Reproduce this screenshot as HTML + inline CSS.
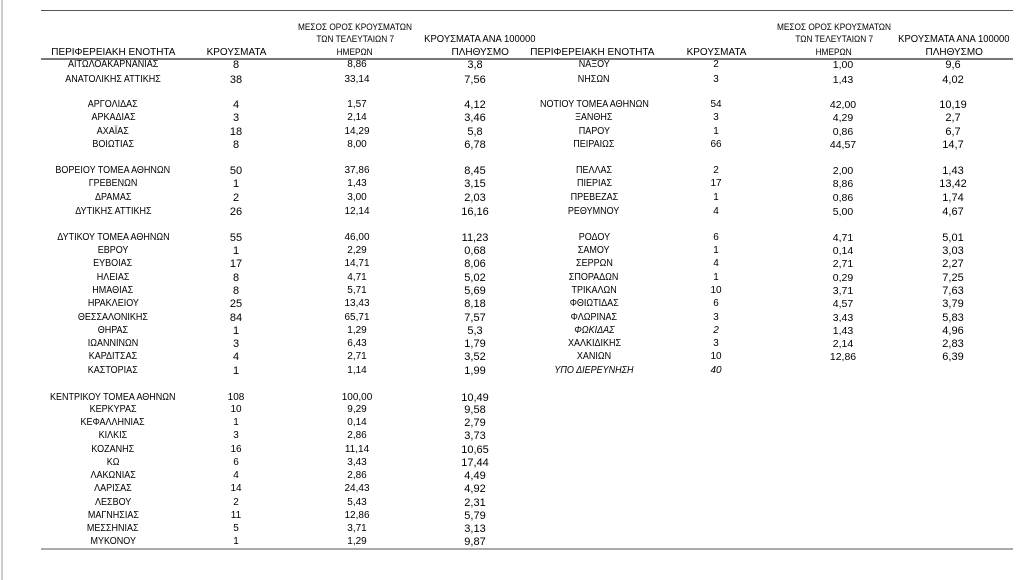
<!DOCTYPE html>
<html><head><meta charset="utf-8"><style>
html,body{margin:0;padding:0;background:#fff;width:1024px;height:580px;overflow:hidden;position:relative;font-family:"Liberation Sans",Arial,sans-serif;color:#000}
.r{position:absolute;left:0;width:1024px;height:14px}
.r div{position:absolute;top:0;height:14px;line-height:14px;text-align:center;white-space:nowrap}
.r span{display:inline-block;transform:scaleX(.9);transform-origin:center}
.c1{left:43px;width:140px;font-size:10px}
.c2{left:206px;width:60px;font-size:11px}
.c3{left:317px;width:80px;font-size:10px}
.c4{left:435px;width:80px;font-size:11px}
.c5{left:524px;width:140px;font-size:10px}
.c6{left:686px;width:60px;font-size:10px}
.c7{left:803px;width:80px;font-size:10.5px}
.c8{left:913px;width:80px;font-size:11px}
.i{font-style:italic}
.h{position:absolute;text-align:center;white-space:nowrap;line-height:12px}
.h span{display:inline-block;transform:scaleX(.95)}
.s{font-size:9px}
.s span{transform:scaleX(.92)}
.ln{position:absolute;height:0}
</style></head><body>
<div style="position:absolute;left:1px;top:0;width:2px;height:580px;background:#ccc"></div>
<div class="ln" style="left:41px;top:10px;width:972px;border-top:1.5px solid #555"></div>
<div class="ln" style="left:41px;top:58px;width:972px;border-top:2px solid #777"></div>
<div class="ln" style="left:41px;top:548px;width:972px;border-top:2px solid #aaa"></div>

<div class="h" style="left:33px;width:160px;top:46px;font-size:10.5px"><span>ΠΕΡΙΦΕΡΕΙΑΚΗ ΕΝΟΤΗΤΑ</span></div>
<div class="h" style="left:196px;width:80px;top:46px;font-size:10.5px"><span>ΚΡΟΥΣΜΑΤΑ</span></div>
<div class="h s" style="left:275px;width:160px;top:21px"><span>ΜΕΣΟΣ ΟΡΟΣ ΚΡΟΥΣΜΑΤΩΝ</span></div>
<div class="h s" style="left:275px;width:160px;top:33px"><span>ΤΩΝ ΤΕΛΕΥΤΑΙΩΝ 7</span></div>
<div class="h s" style="left:275px;width:160px;top:46px"><span>ΗΜΕΡΩΝ</span></div>
<div class="h" style="left:400px;width:160px;top:33px;font-size:10.5px"><span style="transform:scaleX(.9)">ΚΡΟΥΣΜΑΤΑ ΑΝΑ 100000</span></div>
<div class="h" style="left:400px;width:160px;top:46px;font-size:10.5px"><span>ΠΛΗΘΥΣΜΟ</span></div>

<div class="h" style="left:512px;width:160px;top:46px;font-size:10.5px"><span>ΠΕΡΙΦΕΡΕΙΑΚΗ ΕΝΟΤΗΤΑ</span></div>
<div class="h" style="left:676px;width:80px;top:46px;font-size:10.5px"><span>ΚΡΟΥΣΜΑΤΑ</span></div>
<div class="h s" style="left:754px;width:160px;top:21px"><span>ΜΕΣΟΣ ΟΡΟΣ ΚΡΟΥΣΜΑΤΩΝ</span></div>
<div class="h s" style="left:754px;width:160px;top:33px"><span>ΤΩΝ ΤΕΛΕΥΤΑΙΩΝ 7</span></div>
<div class="h s" style="left:754px;width:160px;top:46px"><span>ΗΜΕΡΩΝ</span></div>
<div class="h" style="left:874px;width:160px;top:33px;font-size:10.5px"><span style="transform:scaleX(.9)">ΚΡΟΥΣΜΑΤΑ ΑΝΑ 100000</span></div>
<div class="h" style="left:874px;width:160px;top:46px;font-size:10.5px"><span>ΠΛΗΘΥΣΜΟ</span></div>

<div class="r" style="top:58px"><div class="c1"><span>ΑΙΤΩΛΟΑΚΑΡΝΑΝΙΑΣ</span></div><div class="c2">8</div><div class="c3">8,86</div><div class="c4">3,8</div><div class="c5"><span>ΝΑΞΟΥ</span></div><div class="c6">2</div><div class="c7">1,00</div><div class="c8">9,6</div></div>
<div class="r" style="top:73px"><div class="c1"><span>ΑΝΑΤΟΛΙΚΗΣ ΑΤΤΙΚΗΣ</span></div><div class="c2">38</div><div class="c3">33,14</div><div class="c4">7,56</div><div class="c5"><span>ΝΗΣΩΝ</span></div><div class="c6">3</div><div class="c7">1,43</div><div class="c8">4,02</div></div>

<div class="r" style="top:98px"><div class="c1"><span>ΑΡΓΟΛΙΔΑΣ</span></div><div class="c2">4</div><div class="c3">1,57</div><div class="c4">4,12</div><div class="c5"><span>ΝΟΤΙΟΥ ΤΟΜΕΑ ΑΘΗΝΩΝ</span></div><div class="c6">54</div><div class="c7">42,00</div><div class="c8">10,19</div></div>
<div class="r" style="top:111px"><div class="c1"><span>ΑΡΚΑΔΙΑΣ</span></div><div class="c2">3</div><div class="c3">2,14</div><div class="c4">3,46</div><div class="c5"><span>ΞΑΝΘΗΣ</span></div><div class="c6">3</div><div class="c7">4,29</div><div class="c8">2,7</div></div>
<div class="r" style="top:125px"><div class="c1"><span>ΑΧΑΪΑΣ</span></div><div class="c2">18</div><div class="c3">14,29</div><div class="c4">5,8</div><div class="c5"><span>ΠΑΡΟΥ</span></div><div class="c6">1</div><div class="c7">0,86</div><div class="c8">6,7</div></div>
<div class="r" style="top:138px"><div class="c1"><span>ΒΟΙΩΤΙΑΣ</span></div><div class="c2">8</div><div class="c3">8,00</div><div class="c4">6,78</div><div class="c5"><span>ΠΕΙΡΑΙΩΣ</span></div><div class="c6">66</div><div class="c7">44,57</div><div class="c8">14,7</div></div>

<div class="r" style="top:164px"><div class="c1"><span>ΒΟΡΕΙΟΥ ΤΟΜΕΑ ΑΘΗΝΩΝ</span></div><div class="c2">50</div><div class="c3">37,86</div><div class="c4">8,45</div><div class="c5"><span>ΠΕΛΛΑΣ</span></div><div class="c6">2</div><div class="c7">2,00</div><div class="c8">1,43</div></div>
<div class="r" style="top:177px"><div class="c1"><span>ΓΡΕΒΕΝΩΝ</span></div><div class="c2">1</div><div class="c3">1,43</div><div class="c4">3,15</div><div class="c5"><span>ΠΙΕΡΙΑΣ</span></div><div class="c6">17</div><div class="c7">8,86</div><div class="c8">13,42</div></div>
<div class="r" style="top:191px"><div class="c1"><span>ΔΡΑΜΑΣ</span></div><div class="c2">2</div><div class="c3">3,00</div><div class="c4">2,03</div><div class="c5"><span>ΠΡΕΒΕΖΑΣ</span></div><div class="c6">1</div><div class="c7">0,86</div><div class="c8">1,74</div></div>
<div class="r" style="top:205px"><div class="c1"><span>ΔΥΤΙΚΗΣ ΑΤΤΙΚΗΣ</span></div><div class="c2">26</div><div class="c3">12,14</div><div class="c4">16,16</div><div class="c5"><span>ΡΕΘΥΜΝΟΥ</span></div><div class="c6">4</div><div class="c7">5,00</div><div class="c8">4,67</div></div>

<div class="r" style="top:231px"><div class="c1"><span>ΔΥΤΙΚΟΥ ΤΟΜΕΑ ΑΘΗΝΩΝ</span></div><div class="c2">55</div><div class="c3">46,00</div><div class="c4">11,23</div><div class="c5"><span>ΡΟΔΟΥ</span></div><div class="c6">6</div><div class="c7">4,71</div><div class="c8">5,01</div></div>
<div class="r" style="top:244px"><div class="c1"><span>ΕΒΡΟΥ</span></div><div class="c2">1</div><div class="c3">2,29</div><div class="c4">0,68</div><div class="c5"><span>ΣΑΜΟΥ</span></div><div class="c6">1</div><div class="c7">0,14</div><div class="c8">3,03</div></div>
<div class="r" style="top:257px"><div class="c1"><span>ΕΥΒΟΙΑΣ</span></div><div class="c2">17</div><div class="c3">14,71</div><div class="c4">8,06</div><div class="c5"><span>ΣΕΡΡΩΝ</span></div><div class="c6">4</div><div class="c7">2,71</div><div class="c8">2,27</div></div>
<div class="r" style="top:271px"><div class="c1"><span>ΗΛΕΙΑΣ</span></div><div class="c2">8</div><div class="c3">4,71</div><div class="c4">5,02</div><div class="c5"><span>ΣΠΟΡΑΔΩΝ</span></div><div class="c6">1</div><div class="c7">0,29</div><div class="c8">7,25</div></div>
<div class="r" style="top:284px"><div class="c1"><span>ΗΜΑΘΙΑΣ</span></div><div class="c2">8</div><div class="c3">5,71</div><div class="c4">5,69</div><div class="c5"><span>ΤΡΙΚΑΛΩΝ</span></div><div class="c6">10</div><div class="c7">3,71</div><div class="c8">7,63</div></div>
<div class="r" style="top:297px"><div class="c1"><span>ΗΡΑΚΛΕΙΟΥ</span></div><div class="c2">25</div><div class="c3">13,43</div><div class="c4">8,18</div><div class="c5"><span>ΦΘΙΩΤΙΔΑΣ</span></div><div class="c6">6</div><div class="c7">4,57</div><div class="c8">3,79</div></div>
<div class="r" style="top:311px"><div class="c1"><span>ΘΕΣΣΑΛΟΝΙΚΗΣ</span></div><div class="c2">84</div><div class="c3">65,71</div><div class="c4">7,57</div><div class="c5"><span>ΦΛΩΡΙΝΑΣ</span></div><div class="c6">3</div><div class="c7">3,43</div><div class="c8">5,83</div></div>
<div class="r" style="top:324px"><div class="c1"><span>ΘΗΡΑΣ</span></div><div class="c2">1</div><div class="c3">1,29</div><div class="c4">5,3</div><div class="c5 i"><span>ΦΩΚΙΔΑΣ</span></div><div class="c6 i">2</div><div class="c7">1,43</div><div class="c8">4,96</div></div>
<div class="r" style="top:337px"><div class="c1"><span>ΙΩΑΝΝΙΝΩΝ</span></div><div class="c2">3</div><div class="c3">6,43</div><div class="c4">1,79</div><div class="c5"><span>ΧΑΛΚΙΔΙΚΗΣ</span></div><div class="c6">3</div><div class="c7">2,14</div><div class="c8">2,83</div></div>
<div class="r" style="top:350px"><div class="c1"><span>ΚΑΡΔΙΤΣΑΣ</span></div><div class="c2">4</div><div class="c3">2,71</div><div class="c4">3,52</div><div class="c5"><span>ΧΑΝΙΩΝ</span></div><div class="c6">10</div><div class="c7">12,86</div><div class="c8">6,39</div></div>
<div class="r" style="top:364px"><div class="c1"><span>ΚΑΣΤΟΡΙΑΣ</span></div><div class="c2">1</div><div class="c3">1,14</div><div class="c4">1,99</div><div class="c5 i"><span>ΥΠΟ ΔΙΕΡΕΥΝΗΣΗ</span></div><div class="c6 i">40</div></div>

<div class="r" style="top:391px"><div class="c1"><span>ΚΕΝΤΡΙΚΟΥ ΤΟΜΕΑ ΑΘΗΝΩΝ</span></div><div class="c2" style="font-size:10px">108</div><div class="c3">100,00</div><div class="c4">10,49</div></div>
<div class="r" style="top:403px"><div class="c1"><span>ΚΕΡΚΥΡΑΣ</span></div><div class="c2" style="font-size:10px">10</div><div class="c3">9,29</div><div class="c4">9,58</div></div>
<div class="r" style="top:416px"><div class="c1"><span>ΚΕΦΑΛΛΗΝΙΑΣ</span></div><div class="c2" style="font-size:10px">1</div><div class="c3">0,14</div><div class="c4">2,79</div></div>
<div class="r" style="top:429px"><div class="c1"><span>ΚΙΛΚΙΣ</span></div><div class="c2" style="font-size:10px">3</div><div class="c3">2,86</div><div class="c4">3,73</div></div>
<div class="r" style="top:443px"><div class="c1"><span>ΚΟΖΑΝΗΣ</span></div><div class="c2" style="font-size:10px">16</div><div class="c3">11,14</div><div class="c4">10,65</div></div>
<div class="r" style="top:456px"><div class="c1"><span>ΚΩ</span></div><div class="c2" style="font-size:10px">6</div><div class="c3">3,43</div><div class="c4">17,44</div></div>
<div class="r" style="top:469px"><div class="c1"><span>ΛΑΚΩΝΙΑΣ</span></div><div class="c2" style="font-size:10px">4</div><div class="c3">2,86</div><div class="c4">4,49</div></div>
<div class="r" style="top:482px"><div class="c1"><span>ΛΑΡΙΣΑΣ</span></div><div class="c2" style="font-size:10px">14</div><div class="c3">24,43</div><div class="c4">4,92</div></div>
<div class="r" style="top:496px"><div class="c1"><span>ΛΕΣΒΟΥ</span></div><div class="c2" style="font-size:10px">2</div><div class="c3">5,43</div><div class="c4">2,31</div></div>
<div class="r" style="top:509px"><div class="c1"><span>ΜΑΓΝΗΣΙΑΣ</span></div><div class="c2" style="font-size:10px">11</div><div class="c3">12,86</div><div class="c4">5,79</div></div>
<div class="r" style="top:522px"><div class="c1"><span>ΜΕΣΣΗΝΙΑΣ</span></div><div class="c2" style="font-size:10px">5</div><div class="c3">3,71</div><div class="c4">3,13</div></div>
<div class="r" style="top:535px"><div class="c1"><span>ΜΥΚΟΝΟΥ</span></div><div class="c2" style="font-size:10px">1</div><div class="c3">1,29</div><div class="c4">9,87</div></div>
</body></html>
